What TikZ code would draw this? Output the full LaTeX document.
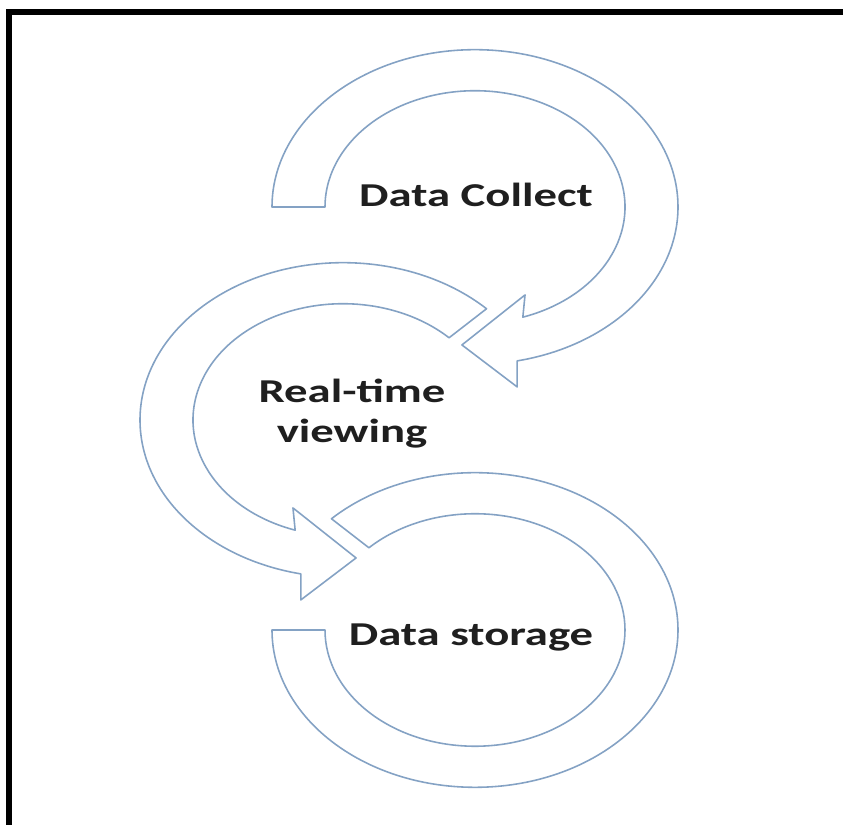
\documentclass[tikz,border=0pt]{standalone}
\usepackage{fontspec}
\newfontfamily\labelfont[FakeStretch=1.40]{Carlito}
\usetikzlibrary{calc}

\definecolor{bandblue}{RGB}{132,162,196}

\tikzset{
	band/.style={draw=bandblue, fill=white, line width=0.9pt, line join=round},
	caption/.style={font=\labelfont\bfseries\fontsize{19}{23.2}\selectfont,
		text=black!88, inner sep=0pt, align=center},
}

\begin{document}
\begin{tikzpicture}[x=0.02cm, y=0.02cm]

	% ---- parameters

	\def\rout{203}
	\def\rin{150}
	\def\squash{0.775}

	% ---- canvas

	\useasboundingbox (0,0) rectangle (843,825);

	% ---- centres

	\coordinate (C1) at (475,618);
	\coordinate (C2) at (343,405);
	\coordinate (C3) at (475,195);

	% ---- frame

	\draw[line width=3.4pt] (9,0) -- (9,813) -- (843,813);

	% ---- middle arrow

	\begin{scope}[shift={(C2)}, yscale=\squash]
		\draw[band] (45:\rout) arc[start angle=45, end angle=258, radius=\rout]
			-- (259.7:236) -- (274.2:178.5) -- (246.2:124) -- (251.4:\rin)
			arc[start angle=251.4, end angle=45, radius=\rin] -- cycle;
	\end{scope}

	% ---- top arrow

	\begin{scope}[shift={(C1)}, yscale=\squash]
		\draw[band] (180:\rout) arc[start angle=180, end angle=-78, radius=\rout]
			-- (-79.7:236) -- (-94.2:178.5) -- (-66.2:124) -- (-71.4:\rin)
			arc[start angle=-71.4, end angle=180, radius=\rin] -- cycle;
	\end{scope}

	% ---- bottom ring

	\begin{scope}[shift={(C3)}, yscale=\squash]
		\draw[band] (180:\rout) arc[start angle=180, end angle=495, radius=\rout]
			-- (135:\rin)
			arc[start angle=495, end angle=180, radius=\rin] -- cycle;
	\end{scope}

	% ---- labels

	\node[caption, anchor=base] (collect) at (476,618) {Data Collect};
	\node[caption, anchor=base] (viewing) at (352,382) {Real-time\\viewing};
	\node[caption, anchor=base] (storage) at (471,179) {Data storage};

\end{tikzpicture}
\end{document}
